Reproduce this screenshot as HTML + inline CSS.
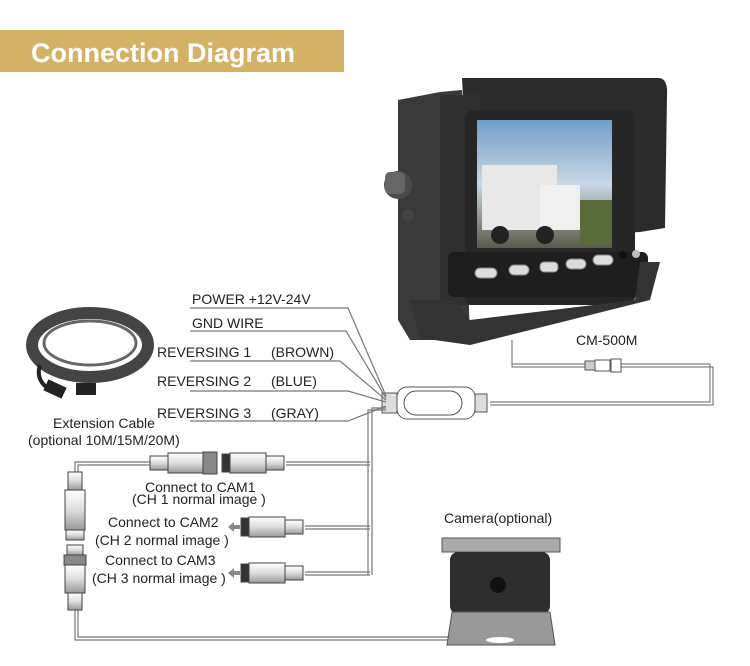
<!DOCTYPE html>
<html><head><meta charset="utf-8"><style>
body{margin:0;background:#fff;}
svg{display:block;font-family:"Liberation Sans",Arial,sans-serif;}
</style></head><body>
<svg width="750" height="666" viewBox="0 0 750 666" xmlns="http://www.w3.org/2000/svg">
<defs>
<linearGradient id="scr" x1="0" y1="0" x2="0" y2="1">
<stop offset="0" stop-color="#6f9fc6"/><stop offset="0.5" stop-color="#c8d8e6"/><stop offset="1" stop-color="#5a5a48"/>
</linearGradient>
<linearGradient id="con" x1="0" y1="0" x2="0" y2="1">
<stop offset="0" stop-color="#fff"/><stop offset="0.5" stop-color="#ddd"/><stop offset="1" stop-color="#999"/>
</linearGradient>
</defs>
<rect x="0" y="30" width="344" height="42" fill="#d4b265"/>
<text x="31" y="62" font-size="27" font-weight="bold" fill="#fff">Connection Diagram</text>

<!-- monitor -->
<path d="M398 100 L440 92 L462 90 L470 340 L410 340 L398 320 Z" fill="#3a3a3a"/>
<path d="M462 78 L660 78 Q668 80 667 95 L665 228 L640 232 L470 240 Z" fill="#2b2b2b"/>
<rect x="440" y="95" width="40" height="210" fill="#2f2f2f"/>
<rect x="465" y="110" width="170" height="195" rx="8" fill="#262626"/>
<rect x="477" y="120" width="135" height="128" fill="url(#scr)"/>
<rect x="482" y="165" width="75" height="65" fill="#e8e8e8"/>
<rect x="540" y="185" width="40" height="45" fill="#f0f0f0"/>
<circle cx="500" cy="235" r="9" fill="#222"/><circle cx="545" cy="235" r="9" fill="#222"/>
<rect x="580" y="200" width="32" height="45" fill="#5a6a3a"/>
<rect x="448" y="252" width="200" height="45" rx="6" fill="#1e1e1e"/>
<g fill="#ddd" stroke="#888">
<rect x="475" y="268" width="22" height="10" rx="5"/><rect x="509" y="265" width="20" height="10" rx="5"/>
<rect x="540" y="262" width="18" height="10" rx="4"/><rect x="566" y="259" width="20" height="10" rx="5"/><rect x="593" y="255" width="20" height="10" rx="5"/>
</g>
<circle cx="623" cy="255" r="4" fill="#111"/><circle cx="636" cy="254" r="4" fill="#bbb"/>
<path d="M410 300 L420 338 L470 345 L650 300 L660 262 L640 262 L635 300 L470 320 L455 300 Z" fill="#333"/>
<circle cx="398" cy="185" r="14" fill="#4a4a4a"/><rect x="385" y="172" width="20" height="22" rx="5" fill="#666"/>
<circle cx="408" cy="215" r="6" fill="#444"/>

<!-- CM-500M cable -->
<text x="576" y="345" font-size="14" fill="#222">CM-500M</text>
<g fill="none" stroke="#666" stroke-width="1">
<path d="M512 340 V367 H585"/><path d="M512 343 V364 H585"/>
<path d="M620 367 H713 V405 H490"/><path d="M620 364 H710 V402 H490"/>
</g>
<rect x="585" y="361" width="10" height="9" fill="#ccc" stroke="#555"/>
<rect x="595" y="360" width="15" height="11" fill="#fff" stroke="#555"/>
<rect x="611" y="359" width="10" height="13" fill="#fff" stroke="#555"/>

<!-- splitter -->
<rect x="382" y="393" width="15" height="20" fill="#ddd" stroke="#555"/>
<rect x="397" y="387" width="78" height="32" rx="10" fill="#fff" stroke="#555"/>
<rect x="404" y="391" width="58" height="24" rx="12" fill="#fff" stroke="#555"/>
<rect x="475" y="394" width="12" height="18" fill="#ddd" stroke="#555"/>

<!-- wires -->
<g fill="none" stroke="#777" stroke-width="1.2">
<path d="M190 308 H348 L386 396"/><path d="M190 331 H346 L386 398"/>
<path d="M190 361 H340 L386 400"/><path d="M190 391 H348 L386 402"/>
<path d="M190 421 H348 L386 406"/>
<path d="M386 408 H372 V575"/><path d="M386 410 H368 V575"/>
<path d="M286 462 H370"/><path d="M286 465 H370"/>
<path d="M305 526 H370"/><path d="M305 529 H370"/>
<path d="M305 572 H370"/><path d="M305 575 H370"/>
<path d="M150 462 H75 V472"/><path d="M150 465 H78 V472"/>
<path d="M75 610 V640 H450"/><path d="M78 610 V637 H450"/>
</g>
<g font-size="14" fill="#222">
<text x="192" y="304">POWER +12V-24V</text>
<text x="192" y="328">GND WIRE</text>
<text x="157" y="357">REVERSING 1</text><text x="271" y="357">(BROWN)</text>
<text x="157" y="386">REVERSING 2</text><text x="271" y="386">(BLUE)</text>
<text x="157" y="418">REVERSING 3</text><text x="271" y="418">(GRAY)</text>
<text x="53" y="428">Extension Cable</text>
<text x="28" y="445">(optional 10M/15M/20M)</text>
<text x="145" y="492">Connect to CAM1</text>
<text x="132" y="504">(CH 1  normal image  )</text>
<text x="108" y="527">Connect to CAM2</text>
<text x="95" y="545">(CH 2  normal image  )</text>
<text x="105" y="565">Connect to CAM3</text>
<text x="92" y="583">(CH 3  normal image )</text>
<text x="444" y="523">Camera(optional)</text>
</g>

<!-- connectors -->
<g stroke="#444" fill="url(#con)">
<rect x="150" y="456" width="18" height="14"/><rect x="168" y="453" width="35" height="20"/>
<rect x="203" y="452" width="14" height="22" fill="#888"/>
<rect x="222" y="454" width="8" height="18" fill="#333"/><rect x="230" y="453" width="36" height="20"/><rect x="266" y="456" width="18" height="14"/>
<rect x="241" y="518" width="8" height="18" fill="#333"/><rect x="249" y="517" width="36" height="20"/><rect x="285" y="520" width="18" height="14"/>
<rect x="241" y="564" width="8" height="18" fill="#333"/><rect x="249" y="563" width="36" height="20"/><rect x="285" y="566" width="18" height="14"/>
<rect x="68" y="472" width="14" height="18"/><rect x="65" y="490" width="20" height="40"/><rect x="66" y="530" width="18" height="10"/>
<rect x="67" y="545" width="16" height="10"/><rect x="64" y="555" width="22" height="10" fill="#888"/><rect x="65" y="565" width="20" height="28"/><rect x="68" y="593" width="14" height="17"/>
</g>
<g fill="#888"><path d="M228 527 l6 -5 v3 h6 v4 h-6 v3 z"/><path d="M228 573 l6 -5 v3 h6 v4 h-6 v3 z"/></g>

<!-- coil -->
<ellipse cx="90" cy="345" rx="58" ry="32" fill="none" stroke="#444" stroke-width="12"/>
<ellipse cx="90" cy="343" rx="46" ry="22" fill="#fff" stroke="#666" stroke-width="3"/>
<path d="M40 365 Q35 380 50 390" stroke="#222" stroke-width="4" fill="none"/>
<rect x="45" y="383" width="20" height="12" fill="#222" transform="rotate(25 55 389)"/>
<rect x="76" y="383" width="20" height="12" fill="#222"/>

<!-- camera -->
<rect x="442" y="538" width="118" height="14" fill="#aaa" stroke="#555"/>
<rect x="450" y="552" width="100" height="62" rx="8" fill="#2d2d2d"/>
<circle cx="498" cy="585" r="8" fill="#111"/>
<path d="M452 612 L550 612 L555 645 L447 645 Z" fill="#999" stroke="#555"/>
<ellipse cx="500" cy="640" rx="14" ry="3" fill="#fff"/>
</svg>
</body></html>
